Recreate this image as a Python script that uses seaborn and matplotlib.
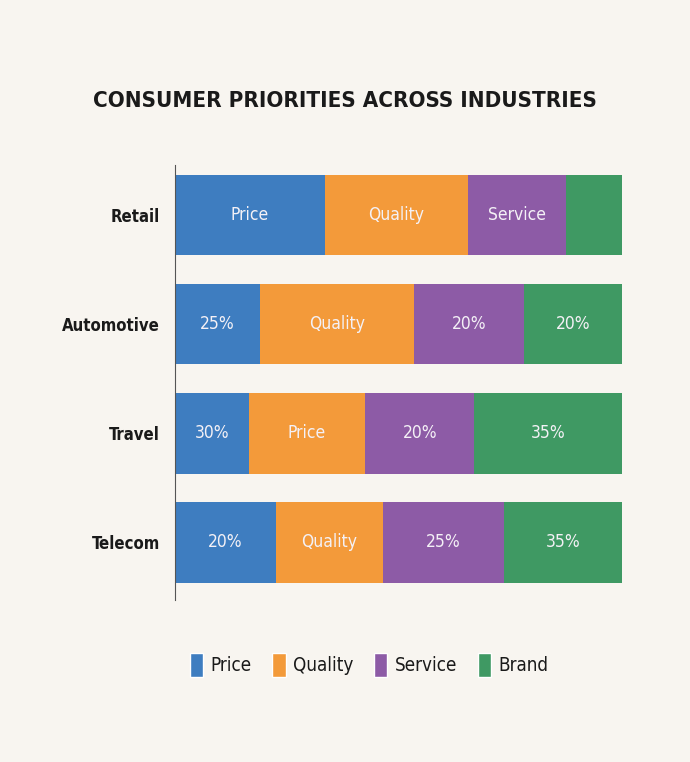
import pandas as pd
import matplotlib.pyplot as plt
import seaborn as sns
from matplotlib.patches import Patch

# data
industries = ["Retail", "Automotive", "Travel", "Telecom"]
series = ["Price", "Quality", "Service", "Brand"]
price = [33.5, 19, 16.5, 22.5]
quality = [32, 34.5, 26, 24]
service = [22, 24.5, 24.5, 27]
brand = [12.5, 22, 33, 26.5]
# text printed inside each segment (as in the picture)
seg_labels = [
    ["Price", "Quality", "Service", ""],
    ["25%", "Quality", "20%", "20%"],
    ["30%", "Price", "20%", "35%"],
    ["20%", "Quality", "25%", "35%"],
]

colors = ["#3E7DC0", "#F39A3A", "#8D5BA6", "#3F9963"]
bg = "#F8F5F0"

df = pd.DataFrame({"industry": industries, "Price": price, "Quality": quality,
                   "Service": service, "Brand": brand})
cum = df[series].cumsum(axis=1)
cum["industry"] = industries

sns.set_theme(style="white")
plt.rcParams["font.family"] = ["DejaVu Sans"]
plt.rcParams["font.stretch"] = "condensed"

fig = plt.figure(figsize=(6.9, 7.62), dpi=100, facecolor=bg)
ax = fig.add_axes([0.2536, 0.2126, 0.6478, 0.5709])
ax.set_facecolor(bg)

# stacked bars: draw cumulative totals from the widest down
for s, c in reversed(list(zip(series, colors))):
    sns.barplot(data=cum, x=s, y="industry", orient="h", color=c,
                width=0.74, saturation=1, ax=ax, linewidth=0)

for i, ind in enumerate(industries):
    left = 0
    for j, s in enumerate(series):
        w = df.loc[i, s]
        ax.text(left + w / 2, i, seg_labels[i][j], ha="center", va="center",
                color="#F4F1F6", fontsize=12.5)
        left += w

ax.set_xlim(0, cum["Brand"].max())
ax.set_ylim(3.53, -0.46)
ax.set_xlabel("")
ax.set_ylabel("")
ax.set_xticks([])
ax.tick_params(axis="y", length=0, pad=11, labelsize=12)
for lab in ax.get_yticklabels():
    lab.set_fontweight("bold")
    lab.set_color("#1a1a1a")
for side in ["top", "right", "bottom"]:
    ax.spines[side].set_visible(False)
ax.spines["left"].set_color("#555555")
ax.spines["left"].set_linewidth(0.8)

fig.text(0.5, 0.868, "CONSUMER PRIORITIES ACROSS INDUSTRIES", ha="center",
         va="center", fontsize=16, fontweight="bold", color="#1a1a1a")

handles = [Patch(facecolor=c, label=s) for s, c in zip(series, colors)]
fig.legend(handles=handles, loc="center", bbox_to_anchor=(0.535, 0.127),
           ncol=4, frameon=False, fontsize=13.5, handlelength=0.7,
           handleheight=1.6, handletextpad=0.4, columnspacing=1.1,
           labelcolor="#1a1a1a")

fig.savefig("out.png", dpi=100, facecolor=bg)
